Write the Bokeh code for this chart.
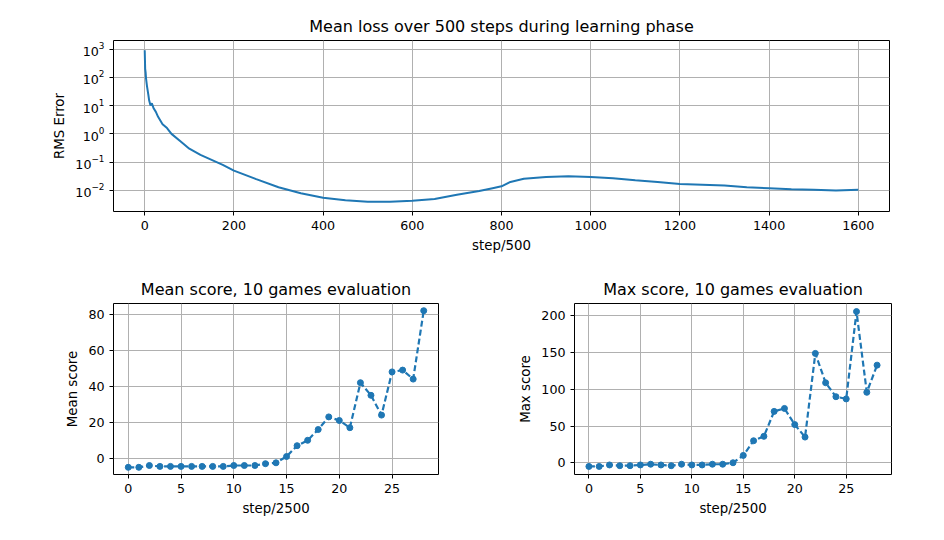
from bokeh.plotting import figure
from bokeh.layouts import column, row
from bokeh.models import Range1d, LogTickFormatter, FixedTicker
from bokeh.embed import file_html
from bokeh.resources import INLINE

# loss curve (step/500, RMS error)
loss_steps = [0, 1, 2, 3, 5, 8, 10, 13, 16, 20, 25, 30, 40, 50, 60, 80, 100, 125, 150, 175, 200, 250, 300, 350,
              400, 450, 500, 550, 600, 650, 700, 750, 780, 800, 820, 850, 900, 950, 1000, 1050, 1100, 1150,
              1200, 1250, 1300, 1350, 1400, 1450, 1500, 1550, 1600]
loss_vals = [900, 200, 150, 90, 50, 25, 15, 10, 12, 8, 6, 4, 2.2, 1.6, 1.0, 0.55, 0.3, 0.18, 0.12, 0.08, 0.05,
             0.025, 0.013, 0.008, 0.0055, 0.0045, 0.004, 0.004, 0.0043, 0.005, 0.007, 0.0095, 0.012, 0.014,
             0.02, 0.026, 0.03, 0.032, 0.03, 0.027, 0.023, 0.02, 0.017, 0.016, 0.015, 0.013, 0.012, 0.011,
             0.0105, 0.0100, 0.0105]

games = list(range(29))
mean_score = [-5, -5, -4, -4.5, -4.5, -4.5, -4.5, -4.5, -4.5, -4.5, -4, -4, -4, -3, -2.5, 1, 7, 10, 16, 23, 21,
              17, 42, 35, 24, 48, 49, 44, 82]
max_score = [-5, -5, -3, -4, -4, -3, -2, -3, -4, -2, -3, -3, -2, -2, 0, 10, 30, 36, 70, 74, 52, 35, 149, 109,
             90, 87, 206, 96, 133]

BLUE = "#1f77b4"
FONT = "DejaVu Sans"


def style(p, title, xlabel, ylabel):
    p.title.text = title
    p.title.align = "center"
    p.title.text_font = FONT
    p.title.text_font_size = "12pt"
    p.title.text_font_style = "normal"
    p.title.text_color = "black"
    p.xaxis.axis_label = xlabel
    p.yaxis.axis_label = ylabel
    for ax in (p.xaxis, p.yaxis):
        ax.axis_label_text_font = FONT
        ax.axis_label_text_font_size = "10pt"
        ax.axis_label_text_font_style = "normal"
        ax.axis_label_text_color = "black"
        ax.major_label_text_font = FONT
        ax.major_label_text_font_size = "9.5pt"
        ax.major_label_text_color = "black"
        ax.minor_tick_line_color = None
        ax.major_tick_in = 0
        ax.major_tick_out = 4
        ax.major_tick_line_color = "black"
        ax.axis_line_color = None
    p.grid.grid_line_color = "#b0b0b0"
    p.grid.grid_line_alpha = 1.0
    p.outline_line_color = "black"
    p.outline_line_width = 1
    p.outline_line_alpha = 1.0
    p.background_fill_color = "white"


top = figure(width=929, height=256, y_axis_type="log", output_backend="svg", toolbar_location=None,
             x_range=Range1d(-70, 1670), y_range=Range1d(0.0018, 2000),
             min_border_left=113, min_border_right=40, min_border_top=40, min_border_bottom=45)
style(top, "Mean loss over 500 steps during learning phase", "step/500", "RMS Error")
top.xaxis.ticker = FixedTicker(ticks=[0, 200, 400, 600, 800, 1000, 1200, 1400, 1600])
top.yaxis.ticker = FixedTicker(ticks=[0.01, 0.1, 1, 10, 100, 1000])
top.yaxis.formatter = LogTickFormatter()
top.line(loss_steps, loss_vals, color=BLUE, line_width=2)


def score_plot(vals, title, ylabel, yr, yticks, left, right, w):
    p = figure(width=w, height=266, output_backend="svg", toolbar_location=None,
               x_range=Range1d(-1.4, 29.4), y_range=Range1d(*yr),
               min_border_left=left, min_border_right=right, min_border_top=47, min_border_bottom=48)
    style(p, title, "step/2500", ylabel)
    p.xaxis.ticker = FixedTicker(ticks=[0, 5, 10, 15, 20, 25])
    p.yaxis.ticker = FixedTicker(ticks=yticks)
    p.line(games, vals, color=BLUE, line_width=2.2, line_dash="6 3")
    p.scatter(games, vals, color=BLUE, size=6)
    return p


left = score_plot(mean_score, "Mean score, 10 games evaluation", "Mean score", (-9, 86),
                  [0, 20, 40, 60, 80], 113, 22, 460)
right = score_plot(max_score, "Max score, 10 games evaluation", "Max score", (-16, 217),
                   [0, 50, 100, 150, 200], 114, 32, 463)

layout = column(top, row(left, right))
open("out.html", "w").write(file_html(layout, INLINE))
